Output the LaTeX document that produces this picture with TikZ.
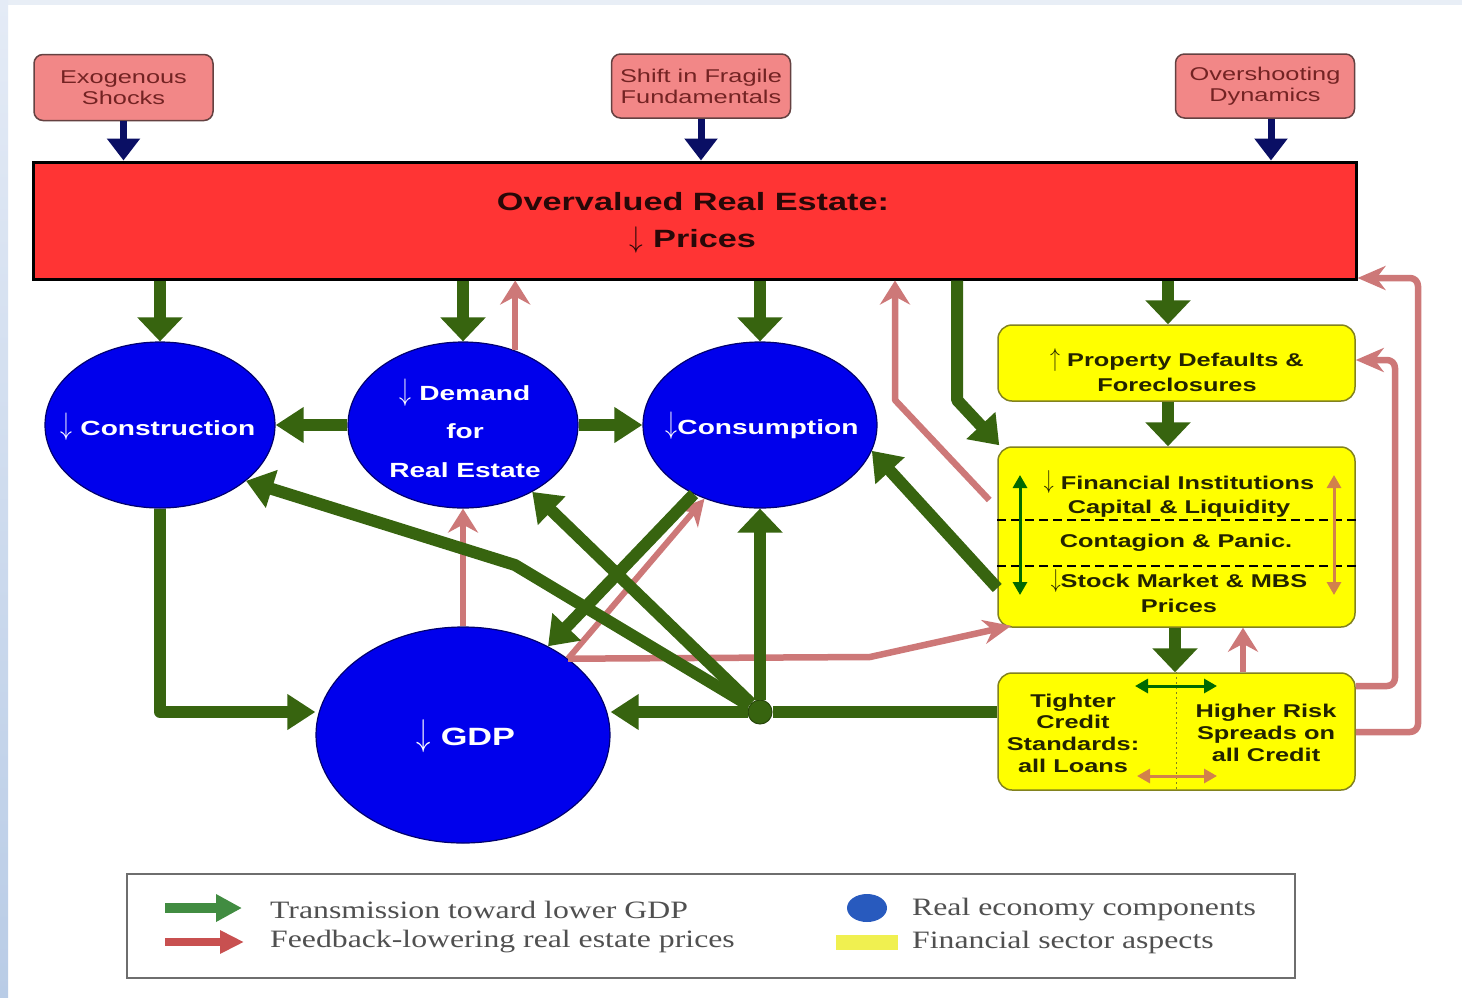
\documentclass[tikz,border=0pt]{standalone}
\usepackage{graphicx}
\usepackage{fontspec}
\newfontfamily\wsans{Liberation Sans}[FakeStretch=1.37]
\newfontfamily\lserif{Liberation Serif}[FakeStretch=1.27]
\usetikzlibrary{arrows.meta,shapes.geometric,calc}
\newcommand{\dnA}{\raisebox{0.02em}{\scalebox{1.15}[1.5]{$\downarrow$}}}
\newcommand{\dnB}{\raisebox{-0.02em}{\scalebox{1.1}[1.2]{$\downarrow$}}}
\newcommand{\upA}{\raisebox{0.02em}{\scalebox{1.15}[1.5]{$\uparrow$}}}
\definecolor{topfill}{RGB}{242,135,135}
\definecolor{topdraw}{RGB}{100,65,65}
\definecolor{toptext}{RGB}{115,35,35}
\definecolor{navyA}{RGB}{10,15,100}
\definecolor{barred}{RGB}{255,52,52}
\definecolor{titletext}{RGB}{40,8,8}
\definecolor{ballblue}{RGB}{0,0,236}
\definecolor{balledge}{RGB}{0,0,110}
\definecolor{tgreen}{RGB}{55,100,15}
\definecolor{fpink}{RGB}{205,120,120}
\definecolor{fyellow}{RGB}{255,255,0}
\definecolor{yedge}{RGB}{130,130,30}
\definecolor{ytext}{RGB}{35,35,0}
\definecolor{dgreen}{RGB}{0,105,0}
\definecolor{orangeA}{RGB}{210,130,75}
\definecolor{legtext}{RGB}{80,80,80}
\definecolor{legdraw}{RGB}{110,110,110}
\definecolor{leggreen}{RGB}{65,140,65}
\definecolor{legred}{RGB}{200,80,80}
\definecolor{legblue}{RGB}{40,90,190}
\definecolor{legyellow}{RGB}{240,240,80}
\definecolor{bandc}{RGB}{232,238,246}
\definecolor{bandtop}{RGB}{228,235,246}
\definecolor{bandbot}{RGB}{185,204,230}
\begin{document}
\begin{tikzpicture}[x=1pt,y=-1pt,
  topbox/.style={draw=topdraw, line width=1.5pt, fill=topfill, rounded corners=9pt, minimum width=179pt, minimum height=66pt, align=center, text=toptext, font=\wsans\fontsize{18.5}{21}\selectfont, inner sep=0pt},
  ybox/.style={draw=yedge, line width=1.5pt, fill=fyellow, rounded corners=14pt, minimum width=357pt, inner sep=0pt},
  ytxt/.style={align=center, text=ytext, font=\wsans\bfseries\fontsize{18.5}{24.5}\selectfont, inner sep=0pt},
  ball/.style={ellipse, fill=ballblue, draw=balledge, line width=1.2pt, inner sep=0pt},
  btxt/.style={align=center, text=white, font=\wsans\bfseries\fontsize{20.5}{38.5}\selectfont, inner sep=0pt},
  navyarr/.style={draw=navyA, line width=7pt, -{Triangle[width=32pt,length=22pt]}},
  garrV/.style={draw=tgreen, line width=12pt, line join=round, -{Triangle[width=44pt,length=24pt]}},
  garrH/.style={draw=tgreen, line width=12pt, line join=round, -{Triangle[width=34pt,length=28pt]}},
  garrD/.style={draw=tgreen, line width=12pt, line join=round, -{Triangle[width=38pt,length=27pt]}},
  gline/.style={draw=tgreen, line width=12pt},
  parrV/.style={draw=fpink, line width=6.5pt, line join=round, -{Stealth[width=30pt,length=24pt,inset=8pt]}},
  parrH/.style={draw=fpink, line width=6.5pt, line join=round, -{Stealth[width=24pt,length=28pt,inset=9pt]}},
  parrD/.style={draw=fpink, line width=6pt, line join=round, -{Stealth[width=27pt,length=26pt,inset=8pt]}},
  dgdbl/.style={draw=dgreen, line width=3pt, {Triangle[width=14pt,length=13pt]}-{Triangle[width=14pt,length=13pt]}},
  ordbl/.style={draw=orangeA, line width=3pt, {Triangle[width=14pt,length=13pt]}-{Triangle[width=14pt,length=13pt]}},
  legtxt/.style={text=legtext, font=\lserif\fontsize{25}{30}\selectfont, inner sep=0pt, anchor=west}
]
\useasboundingbox (0,0) rectangle (1462,997);
% background
\fill[white] (0,0) rectangle (1462,997);
\fill[bandc] (0,0) rectangle (1462,5);
\shade[top color=bandtop, bottom color=bandbot] (0,0) rectangle (8,997);

% top boxes
\node[topbox] (exo) at (123.5,87.5) {Exogenous\\Shocks};
\node[topbox, minimum height=64pt] (shift) at (701,86) {Shift in Fragile\\Fundamentals};
\node[topbox, minimum height=64pt] (over) at (1265,86) {Overshooting\\Dynamics};

% red bar
\node[draw=black, line width=3pt, fill=barred, minimum width=1323pt, minimum height=117pt, inner sep=0pt] (bar) at (694.5,220.5) {};
\node[align=center, text=titletext, font=\wsans\bfseries\fontsize{25}{37}\selectfont, inner sep=0pt] (bartxt) at (693,223) {Overvalued Real Estate:\\\dnB\ Prices};

\draw[navyarr] (exo.south) -- (exo.south |- bar.north);
\draw[navyarr] (shift.south) -- (shift.south |- bar.north);
\draw[navyarr] ([xshift=6pt]over.south) -- ([xshift=6pt]over.south |- bar.north);

% real economy ellipses
\node[ball, minimum width=230pt, minimum height=166pt] (cstr) at (160,425) {};
\node[ball, minimum width=230pt, minimum height=166pt] (dem) at (463,425) {};
\node[ball, minimum width=234pt, minimum height=166pt] (cons) at (760,425) {};
\node[ball, minimum width=294pt, minimum height=216pt] (gdp) at (463,735) {};
\node[btxt] (cstrtxt) at (158,427) {\dnA\ Construction};
\node[btxt] (demtxt) at (465,428) {\dnA\ Demand\\for\\Real Estate};
\node[btxt] (constxt) at (762,426) {\dnA Consumption};
\node[btxt, font=\wsans\bfseries\fontsize{25}{30}\selectfont] (gdptxt) at (466,736) {\dnA\ GDP};

% financial boxes
\node[ybox, minimum height=76pt] (prop) at (1176.5,363) {};
\node[ybox, minimum height=180pt] (fin) at (1176.5,537) {};
\node[ybox, minimum height=117pt] (tight) at (1176.5,731.5) {};
\coordinate (yd1) at (0,520);
\coordinate (yd2) at (0,566);
\draw[black, line width=1.8pt, dash pattern=on 9pt off 5pt] (fin.west |- yd1) -- (fin.east |- yd1);
\draw[black, line width=1.8pt, dash pattern=on 9pt off 5pt] (fin.west |- yd2) -- (fin.east |- yd2);
\draw[yedge, line width=1.5pt, dash pattern=on 2pt off 3pt] (tight.north) -- (tight.south);
\node[ytxt] (proptxt) at (1177,370) {\upA\ Property Defaults \&\\Foreclosures};
\node[ytxt] (fintxt1) at (1179,494) {\dnA\ Financial Institutions\\Capital \& Liquidity};
\node[ytxt] (fintxt2) at (1176,543) {Contagion \& Panic.};
\node[ytxt] (fintxt3) at (1179,591) {\dnA Stock Market \& MBS\\Prices};
\node[ytxt, font=\wsans\bfseries\fontsize{18.5}{21.7}\selectfont] (tighttxt) at (1073,733) {Tighter\\Credit\\Standards:\\all Loans};
\node[ytxt, font=\wsans\bfseries\fontsize{18.5}{21.7}\selectfont] (hightxt) at (1266,733) {Higher Risk\\Spreads on\\all Credit};
\coordinate (ga1) at (1020,475);
\coordinate (ga2) at (1020,595);
\coordinate (oa1) at (1334,475);
\coordinate (oa2) at (1334,595);
\coordinate (gh1) at (1135,686);
\coordinate (gh2) at (1217,686);
\coordinate (oh1) at (1137,776);
\coordinate (oh2) at (1217,776);
\draw[dgdbl] (ga1) -- (ga2);
\draw[ordbl] (oa1) -- (oa2);
\draw[dgdbl] (gh1) -- (gh2);
\draw[ordbl] (oh1) -- (oh2);

% feedback (pink) connectors
\draw[parrV] (dem.55) -- (dem.55 |- bar.south);
\coordinate (pbend) at (895,400);
\draw[parrV] ([xshift=-8pt,yshift=37pt]fin.west) -- (pbend) -- (pbend |- bar.south);
\draw[parrV] (gdp.north) -- (dem.south);
\draw[parrD] (gdp.36) -- (cons.233);
\coordinate (pb2) at (870,657);
\draw[parrH] (gdp.36) -- (pb2) -- ([xshift=14pt,yshift=2pt]fin.south west);
\coordinate (xp) at (1243,0);
\draw[parrV] (tight.north -| xp) -- (fin.south -| xp);
\coordinate (r1a) at (0,686);
\coordinate (r1b) at (1395,360);
\draw[parrH, rounded corners=8pt] (tight.east |- r1a) -| (r1b) -- (prop.east |- r1b);
\coordinate (r2a) at (0,732);
\coordinate (r2b) at (1418,278);
\draw[parrH, rounded corners=8pt] (tight.east |- r2a) -| (r2b) -- (bar.east |- r2b);

% transmission (green) connectors
\draw[garrV] (bar.south -| cstr.north) -- (cstr.north);
\draw[garrV] (bar.south -| dem.north) -- (dem.north);
\draw[garrV] (bar.south -| cons.north) -- (cons.north);
\coordinate (xprop) at (1168,0);
\draw[garrV] (bar.south -| xprop) -- (prop.north -| xprop);
\draw[garrV] (prop.south -| xprop) -- (fin.north -| xprop);
\coordinate (xfin) at (1175,0);
\draw[garrV] (fin.south -| xfin) -- (tight.north -| xfin);
\coordinate (fbend) at (957,400);
\draw[garrD] (bar.south -| fbend) -- (fbend) -- ([xshift=2pt,yshift=1pt]fin.north west);
\draw[garrH] (dem.west) -- (cstr.east);
\draw[garrH] (dem.east) -- (cons.west);
\node[circle, fill=tgreen, draw=tgreen!70!black, line width=1pt, minimum size=24pt, inner sep=0pt] (hub) at (760,712) {};
\draw[garrH] (cstr.south) |- (gdp.west |- hub);
\draw[gline] (tight.west |- hub) -- (hub);
\draw[garrH] (hub) -- (gdp.east |- hub);
\draw[garrV] (hub) -- (hub |- cons.south);
\draw[garrD] (hub) -- (dem);
\coordinate (bend1) at (515,565);
\draw[garrD] (hub) -- (bend1) -- (cstr.-33);
\draw[garrD] (cons) -- (gdp);
\draw[garrD] ([yshift=-51pt]fin.west) -- (cons.-13);

% legend
\node[draw=legdraw, line width=2pt, minimum width=1168pt, minimum height=104pt, inner sep=0pt] (legend) at (711,926) {};
\coordinate (lg1) at (165,908);
\coordinate (lg2) at (242,908);
\coordinate (lr1) at (165,942);
\coordinate (lr2) at (244,942);
\draw[leggreen, line width=10pt, -{Triangle[width=26pt,length=26pt]}] (lg1) -- (lg2);
\draw[legred, line width=8pt, -{Triangle[width=22pt,length=24pt]}] (lr1) -- (lr2);
\node[fill=legblue, ellipse, minimum width=40pt, minimum height=28pt, inner sep=0pt] (legball) at (867,908) {};
\node[fill=legyellow, minimum width=62pt, minimum height=15pt, inner sep=0pt] (legrect) at (867,942.5) {};
\node[legtxt] (lt1) at (270,910) {Transmission toward lower GDP};
\node[legtxt] (lt2) at (270,942) {Feedback-lowering real estate prices};
\node[legtxt] (lt3) at (912,910) {Real economy components};
\node[legtxt] (lt4) at (912,942) {Financial sector aspects};
\end{tikzpicture}
\end{document}
